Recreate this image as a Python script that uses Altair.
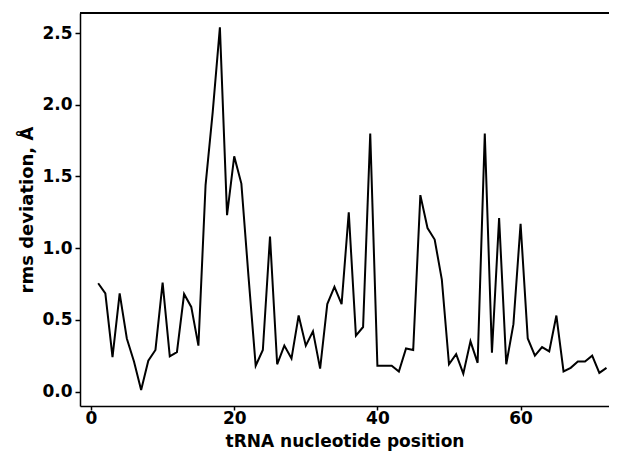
import altair as alt
import pandas as pd

positions = list(range(1, 73))
rms = [0.755, 0.685, 0.24, 0.685, 0.37, 0.21, 0.01, 0.215, 0.29, 0.76,
       0.245, 0.275, 0.68, 0.59, 0.32, 1.44, 1.95, 2.54, 1.23, 1.64,
       1.45, 0.80, 0.18, 0.29, 1.08, 0.19, 0.32, 0.23, 0.53, 0.32,
       0.42, 0.16, 0.61, 0.73, 0.61, 1.25, 0.39, 0.45, 1.80, 0.18,
       0.18, 0.18, 0.14, 0.30, 0.29, 1.37, 1.14, 1.06, 0.78, 0.19,
       0.26, 0.125, 0.35, 0.20, 1.80, 0.27, 1.21, 0.19, 0.47, 1.17,
       0.37, 0.25, 0.31, 0.28, 0.53, 0.14, 0.165, 0.21, 0.21, 0.25,
       0.13, 0.165]
x_ticks = [0, 20, 40, 60]
y_ticks = [0.0, 0.5, 1.0, 1.5, 2.0, 2.5]

df = pd.DataFrame({"pos": positions, "rms": rms})

W, H = 529, 393
FONT = "DejaVu Sans"

line = alt.Chart(df).mark_line(color="black", strokeWidth=2).encode(
    x=alt.X("pos:Q", scale=alt.Scale(domain=[-1.54, 72.35], nice=False, zero=False),
            axis=alt.Axis(values=x_ticks, title="tRNA nucleotide position",
                          grid=False, tickSize=4, labelPadding=0,
                          titleFontSize=17,
                          titleY=40, titleBaseline="alphabetic", format="d")),
    y=alt.Y("rms:Q", scale=alt.Scale(domain=[-0.101, 2.64], nice=False, zero=False),
            axis=alt.Axis(values=y_ticks, title="rms deviation, Å", format=".1f",
                          grid=False, tickSize=5, labelPadding=3,
                          titleFontSize=18, titlePadding=5)),
)

top = alt.Chart(df).mark_rule(color="black", strokeWidth=2).encode(
    x=alt.value(0), x2=alt.value(W), y=alt.value(0)
)

chart = (line + top).properties(
    width=W, height=H,
    autosize=alt.AutoSizeParams(type="none"),
    padding={"left": 72, "top": 5, "right": 0, "bottom": 45},
).configure_view(stroke=None).configure_axis(
    domainColor="black", domainWidth=1.5, tickColor="black", tickWidth=1.5,
    labelFont=FONT, labelFontWeight="bold", labelFontSize=17, labelColor="black",
    titleFont=FONT, titleFontWeight="bold", titleColor="black",
)

chart.save("out.html", embed_options={"renderer": "svg", "actions": False})
